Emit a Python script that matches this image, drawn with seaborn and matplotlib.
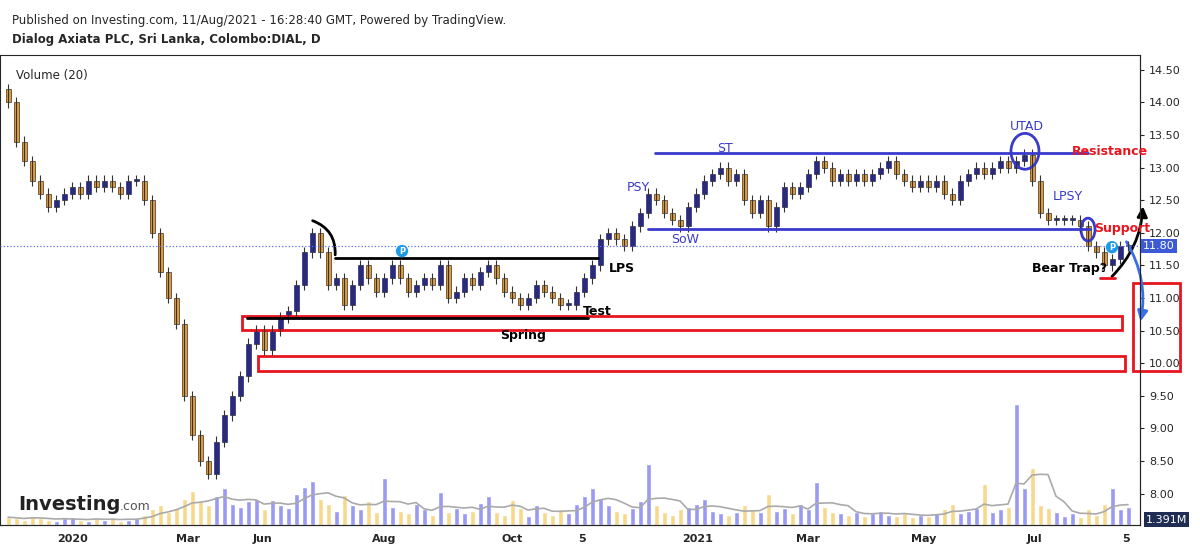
import matplotlib
matplotlib.use("Agg")
import matplotlib.pyplot as plt
import seaborn as sns
import pandas as pd
from matplotlib.patches import Rectangle, Ellipse, FancyArrowPatch

# closing prices, one candle per step
closes = [14.0, 13.4, 13.1, 12.8, 12.6, 12.4, 12.5, 12.6, 12.7, 12.6, 12.8, 12.7, 12.8, 12.7, 12.6,
          12.8, 12.8, 12.5, 12.0, 11.4, 11.0, 10.6, 9.5, 8.9, 8.5, 8.3, 8.8, 9.2, 9.5, 9.8,
          10.3, 10.5, 10.2, 10.5, 10.7, 10.8, 11.2, 11.7, 12.0, 11.7, 11.2, 11.3, 10.9, 11.2, 11.5,
          11.3, 11.1, 11.3, 11.5, 11.3, 11.1, 11.2, 11.3, 11.2, 11.5, 11.0, 11.1, 11.3, 11.2, 11.4,
          11.5, 11.3, 11.1, 11.0, 10.9, 11.0, 11.2, 11.1, 11.0, 10.9, 10.9, 11.1, 11.3, 11.5, 11.9,
          12.0, 11.9, 11.8, 12.1, 12.3, 12.6, 12.5, 12.3, 12.2, 12.1, 12.4, 12.6, 12.8, 12.9, 13.0,
          12.8, 12.9, 12.5, 12.3, 12.5, 12.1, 12.4, 12.7, 12.6, 12.7, 12.9, 13.1, 13.0, 12.8, 12.9,
          12.8, 12.9, 12.8, 12.9, 13.0, 13.1, 12.9, 12.8, 12.7, 12.8, 12.7, 12.8, 12.6, 12.5, 12.8,
          12.9, 13.0, 12.9, 13.0, 13.1, 13.0, 13.1, 13.2, 12.8, 12.3, 12.2, 12.2, 12.2, 12.2, 12.1,
          11.8, 11.7, 11.5, 11.6, 11.8, 11.8]
volumes = [0.6, 0.5, 0.4, 0.7, 0.5, 0.4, 0.3, 0.5, 0.6, 0.4, 0.3, 0.5, 0.4, 0.6, 0.3,
           0.4, 0.5, 0.8, 1.2, 1.5, 1.0, 1.3, 2.0, 2.6, 1.8, 1.5, 2.2, 2.8, 1.6, 1.4,
           1.8, 2.0, 1.2, 1.9, 1.5, 1.3, 2.4, 2.9, 3.4, 2.0, 1.6, 1.1, 2.3, 1.5, 1.2,
           1.8, 1.0, 3.6, 1.4, 1.1, 0.9, 1.6, 1.2, 0.8, 2.5, 1.0, 1.3, 0.9, 1.1, 1.7,
           2.2, 1.0, 0.8, 1.9, 1.3, 0.7, 1.5, 1.0, 0.8, 1.2, 0.9, 1.6, 2.2, 2.8, 2.1,
           1.5, 1.1, 0.9, 1.3, 1.8, 4.7, 1.5, 1.0, 0.8, 1.2, 1.4, 1.6, 2.0, 1.1, 0.9,
           0.8, 1.0, 1.5, 1.2, 1.0, 2.4, 1.1, 1.3, 0.9, 1.6, 1.2, 3.3, 1.4, 1.0, 0.9,
           0.8, 1.0, 0.7, 0.9, 1.1, 0.8, 0.7, 0.9, 0.6, 0.8, 0.7, 0.9, 1.2, 1.6, 0.9,
           1.1, 1.3, 3.1, 1.0, 1.2, 1.4, 9.3, 2.8, 4.4, 1.5, 1.3, 1.0, 0.7, 0.9, 0.6,
           1.2, 0.8, 1.6, 2.8, 1.2, 1.4]
tick_pos = [72, 188, 262, 384, 512, 582, 698, 808, 924, 1034, 1126]
tick_labels = ["2020", "Mar", "Jun", "Aug", "Oct", "5", "2021", "Mar", "May", "Jul", "5"]
price_ticks = [8.0, 8.5, 9.0, 9.5, 10.0, 10.5, 11.0, 11.5, 12.0, 12.5, 13.0, 13.5, 14.0, 14.5]
last_price = 11.80

sns.set_style("white")
plt.rcParams['font.family'] = ['DejaVu Sans']

step = 8
xs = [8 + i * step for i in range(len(closes))]
opens = [closes[0] + 0.2] + closes[:-1]
up_col, dn_col = "#2323b4", "#e89a2c"

fig = plt.figure(figsize=(12, 5.48), dpi=100)
ax = fig.add_axes([0.0, 0.042, 0.95, 0.858])
axv = ax.twinx()
axv.set_zorder(0)
ax.set_zorder(1)
ax.patch.set_visible(False)

vcols = ["#9a9af5" if c >= o else "#f7d98c" for o, c in zip(opens, closes)]
axv.bar(xs, volumes, width=5, color=vcols)
ma = pd.Series(volumes).rolling(5, min_periods=1).mean()
sns.lineplot(x=xs, y=ma.values, ax=axv, color="#aaaaaa", lw=1.2)
axv.set_ylim(0, 36)
axv.set_yticks([])

for x, o, c in zip(xs, opens, closes):
    col = up_col if c >= o else dn_col
    hi, lo = max(o, c) + 0.08, min(o, c) - 0.08
    ax.vlines(x, lo, hi, color="#333333", lw=0.8)
    ax.add_patch(Rectangle((x - 2.5, min(o, c)), 5, max(abs(c - o), 0.02),
                           facecolor=col, edgecolor="#333333", lw=0.5))

ax.set_xlim(0, 1140)
ax.set_ylim(7.52, 14.73)
ax.yaxis.tick_right()
ax.set_yticks(price_ticks)
ax.set_yticklabels([f"{p:.2f}" for p in price_ticks], fontsize=8)
ax.set_xticks(tick_pos)
ax.set_xticklabels(tick_labels, fontsize=8, fontweight="bold")
for s in ["top", "left"]:
    ax.spines[s].set_visible(False)
ax.tick_params(length=3)

ax.axhline(last_price, color="#5a6ee6", ls=":", lw=0.9)
ax.text(1143, last_price, f"{last_price:.2f}", color="white", fontsize=8, va="center",
        bbox=dict(fc="#3d5ad6", ec="none", pad=1.5), clip_on=False)

# annotations
blue, red = "#3a3acc", "#e8141e"
ax.plot([655, 1088], [13.23, 13.23], color=blue, lw=2)
ax.plot([648, 1090], [12.06, 12.06], color=blue, lw=2)
ax.plot([335, 598], [11.62, 11.62], color="black", lw=2)
ax.plot([247, 588], [10.70, 10.70], color="black", lw=2)
ax.add_patch(Rectangle((242, 10.51), 880, 0.22, fill=False, ec=red, lw=2))
ax.add_patch(Rectangle((258, 9.88), 867, 0.23, fill=False, ec=red, lw=2))
ax.add_patch(Rectangle((1133, 9.88), 47, 1.35, fill=False, ec=red, lw=2, clip_on=False))
ax.plot([1100, 1115], [11.30, 11.30], color=red, lw=2)
ax.add_patch(Ellipse((1025, 13.25), 28, 0.55, fill=False, ec=blue, lw=2))
ax.add_patch(Ellipse((1088, 12.05), 14, 0.35, fill=False, ec=blue, lw=2))
ax.add_patch(FancyArrowPatch((310, 12.2), (335, 11.62), connectionstyle="arc3,rad=-0.4",
                             color="black", lw=2, arrowstyle="-"))
ax.add_patch(FancyArrowPatch((1110, 11.30), (1143, 12.45), connectionstyle="arc3,rad=0.2",
                             color="black", lw=2, arrowstyle="-|>", mutation_scale=15, clip_on=False))
ax.add_patch(FancyArrowPatch((1125, 11.9), (1140, 10.6), connectionstyle="arc3,rad=-0.2",
                             color="#3a6ee6", lw=2, arrowstyle="-|>", mutation_scale=15, clip_on=False))
for xc, yc in [(402, 11.72), (1112, 11.78)]:
    ax.text(xc, yc, "P", color="white", fontsize=6, ha="center", va="center", fontweight="bold",
            bbox=dict(boxstyle="circle,pad=0.2", fc="#1e9be6", ec="none"))

labels = [("ST", 725, 13.30, blue, "normal"), ("PSY", 638, 12.70, blue, "normal"),
          ("SoW", 685, 11.90, blue, "normal"), ("UTAD", 1027, 13.63, blue, "normal"),
          ("LPSY", 1068, 12.55, blue, "normal"), ("Resistance", 1110, 13.25, red, "bold"),
          ("Support", 1122, 12.06, red, "bold"), ("Bear Trap?", 1070, 11.45, "black", "bold"),
          ("LPS", 622, 11.45, "black", "bold"), ("Test", 597, 10.79, "black", "bold"),
          ("Spring", 523, 10.43, "black", "bold")]
for t, x, y, c, w in labels:
    ax.text(x, y, t, color=c, fontweight=w, fontsize=9, ha="center", va="center", clip_on=False)

fig.text(0.01, 0.975, "Published on Investing.com, 11/Aug/2021 - 16:28:40 GMT, Powered by TradingView.",
         fontsize=8.5, va="top")
fig.text(0.01, 0.94, "Dialog Axiata PLC, Sri Lanka, Colombo:DIAL, D", fontsize=8.5, va="top",
         fontweight="bold")
fig.text(0.013, 0.875, "Volume (20)", fontsize=8.5, va="top")
fig.text(0.015, 0.07, "Investing", fontsize=14, fontweight="bold", color="#222222")
fig.text(0.1, 0.07, ".com", fontsize=9, color="#555555")
fig.text(0.955, 0.052, "1.391M", fontsize=8, color="white", va="center",
         bbox=dict(fc="#1f2d55", ec="none", pad=1.5))

fig.savefig("out.png", dpi=100)
